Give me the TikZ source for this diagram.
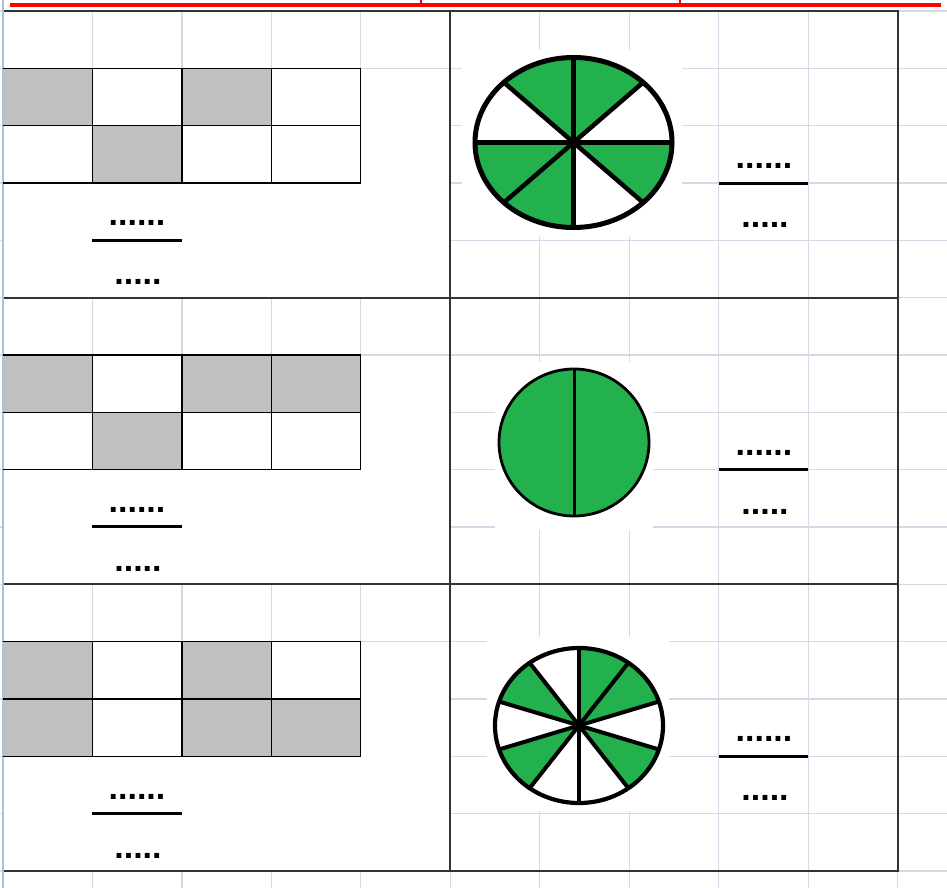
\documentclass[tikz,border=0pt]{standalone}
\usepackage{fontspec}
\setmainfont{Liberation Sans}
\definecolor{gridc}{HTML}{D3DAE7}
\definecolor{leftc}{HTML}{A9C1DF}
\definecolor{borderc}{HTML}{333333}
\definecolor{greenc}{HTML}{22B14C}
\definecolor{grayc}{HTML}{C0C0C0}
\definecolor{redc}{HTML}{FF0000}
\begin{document}
\begin{tikzpicture}[x=1pt,y=-1pt,
  gridline/.style={draw=gridc,line width=1.3pt},
  tableline/.style={draw=borderc,line width=1.8pt},
  cellline/.style={draw=black,line width=1.3pt},
  dotstext/.style={font=\fontsize{34}{34}\selectfont\bfseries,inner sep=0pt},
  fracbar/.style={draw=black,line width=3pt},
  spoke/.style={draw=black}]
\useasboundingbox (0,0) rectangle (947,888);
\fill[white] (0,0) rectangle (947,888);
% spreadsheet grid
\foreach \i in {1,...,10} \draw[gridline] ({3+89.46*\i},11) -- ({3+89.46*\i},888);
\foreach \j in {0,...,15} \draw[gridline] (0,{11+57.33*\j}) -- (947,{11+57.33*\j});
% white backgrounds of inserted pictures
\foreach \r in {0,1,2} \fill[white] (4.2,{68.33+286.65*\r+0.8}) rectangle (449,{297.65+286.65*\r-0.8});
\fill[white] (462,50) rectangle (682,236);
\fill[white] (495,362) rectangle (653,530);
\fill[white] (487,637) rectangle (669,811);
% red underline at top
\draw[draw=redc,line width=3.6pt] (10,4.8) -- (941,4.8);
\coordinate (tickA) at (421,0);
\coordinate (tickB) at (680,0);
\draw[draw=redc,line width=2pt] (tickA) -- ++(0,4);
\draw[draw=redc,line width=2pt] (tickB) -- ++(0,4);
% table
\draw[tableline] (3,11) -- (897.6,11) -- (897.6,871) -- (3,871);
\draw[tableline] (450.3,11) -- (450.3,871);
\draw[tableline] (3,297.65) -- (897.6,297.65);
\draw[tableline] (3,584.3) -- (897.6,584.3);
\draw[draw=leftc,line width=2pt] (3,0) -- (3,888);
% shaded rectangles
\foreach \r/\c/\k in {0/0/0,0/2/0,0/1/1, 1/0/0,1/2/0,1/3/0,1/1/1, 2/0/0,2/2/0,2/0/1,2/2/1,2/3/1}
  \fill[grayc] ({3+89.46*\c},{68.33+286.65*\r+57.33*\k}) rectangle ++(89.46,57.33);
\foreach \r in {0,1,2} {
  \foreach \k in {0,1,2} \draw[cellline] (3,{68.33+286.65*\r+57.33*\k}) -- (360.84,{68.33+286.65*\r+57.33*\k});
  \foreach \c in {1,...,4} \draw[cellline] ({3+89.46*\c},{68.33+286.65*\r}) -- ({3+89.46*\c},{182.99+286.65*\r});
}
% fractions, left column
\foreach \r/\y in {1/240.32, 2/526.97, 3/813.62} {
  \coordinate (lbA\r) at (92.46,\y);
  \coordinate (lbB\r) at (181.92,\y);
  \draw[fracbar] (lbA\r) -- (lbB\r);
  \node[dotstext] (lnum\r) at (137,{\y-17}) {......};
  \node[dotstext] (lden\r) at (138,{\y+42}) {.....};
}
% fractions, right column
\foreach \r/\y in {1/183, 2/469.65, 3/756.3} {
  \coordinate (rbA\r) at (718.68,\y);
  \coordinate (rbB\r) at (808.14,\y);
  \draw[fracbar] (rbA\r) -- (rbB\r);
  \node[dotstext] (rnum\r) at (764,{\y-17}) {......};
  \node[dotstext] (rden\r) at (765,{\y+42}) {.....};
}
% circle 1 (8 parts)
\coordinate (cA) at (573.5,142.5);
\begin{scope}[shift={(cA)}]
  \foreach \a/\b in {0/45, 90/180, 225/315}
    \fill[greenc] (0,0) -- (\a:98.5 and 85) arc[start angle=\a,end angle=\b,x radius=98.5,y radius=85] -- cycle;
  \foreach \a in {0,45,...,315} \draw[spoke,line width=4.5pt] (0,0) -- (\a:98.5 and 85);
  \fill (0,0) circle[radius=5];
  \draw[line width=5pt] (0,0) ellipse[x radius=98.5,y radius=85];
\end{scope}
% circle 2 (halves)
\coordinate (cB) at (574,442.5);
\begin{scope}[shift={(cB)}]
  \fill[greenc] (0,0) ellipse[x radius=75,y radius=73.5];
  \draw[spoke,line width=3pt] (90:75 and 73.5) -- (270:75 and 73.5);
  \draw[line width=2.8pt] (0,0) ellipse[x radius=75,y radius=73.5];
\end{scope}
% circle 3 (10 parts)
\coordinate (cC) at (579,725.5);
\begin{scope}[shift={(cC)}]
  \foreach \a/\b in {18/54, 126/162, 198/234, 270/342}
    \fill[greenc] (0,0) -- (\a:84 and 77.5) arc[start angle=\a,end angle=\b,x radius=84,y radius=77.5] -- cycle;
  \foreach \a in {18,54,...,342} \draw[spoke,line width=4pt] (0,0) -- (\a:84 and 77.5);
  \fill (0,0) circle[radius=5];
  \draw[line width=4.2pt] (0,0) ellipse[x radius=84,y radius=77.5];
\end{scope}
\end{tikzpicture}
\end{document}
